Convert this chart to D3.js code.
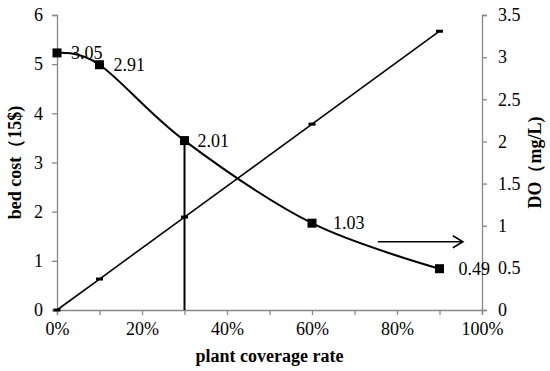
<!DOCTYPE html>
<html>
<head>
<meta charset="utf-8">
<script src="https://cdn.jsdelivr.net/npm/d3@7/dist/d3.min.js"></script>
<style>
  body { margin: 0; background: #fff; }
  svg text { font-family: "Liberation Serif", "Times New Roman", Times, "DejaVu Serif", serif; }
</style>
</head>
<body>
<svg id="chart" width="550" height="371"></svg>
<script>
// coverage rates (fraction) for both series
var coverage = [0, 0.1, 0.3, 0.6, 0.9];
// DO values (right axis), labelled points
var doValues = [3.05, 2.91, 2.01, 1.03, 0.49];
// bed cost values (left axis)
var bedCost = [0, 0.63, 1.89, 3.78, 5.67];
// tick values
var xTicks = [0, 0.2, 0.4, 0.6, 0.8, 1.0];
var xMinorTicks = [0, 0.1, 0.2, 0.3, 0.4, 0.5, 0.6, 0.7, 0.8, 0.9, 1.0];
var leftTicks = [0, 1, 2, 3, 4, 5, 6];
var rightTicks = [0, 0.5, 1, 1.5, 2, 2.5, 3, 3.5];
// arrow annotation (x range at DO level)
var arrowX = [0.755, 0.955];
var arrowDO = 0.81;

var fontStack = '"Liberation Serif", "Times New Roman", Times, "DejaVu Serif", serif';

var svg = d3.select('#chart'),
    margin = { left: 57, right: 68, top: 15, bottom: 61 },
    width = 550 - margin.left - margin.right,
    height = 371 - margin.top - margin.bottom;

var x = d3.scaleLinear().domain([0, 1]).range([margin.left, margin.left + width]);
var yL = d3.scaleLinear().domain([0, 6]).range([margin.top + height, margin.top]);
var yR = d3.scaleLinear().domain([0, 3.5]).range([margin.top + height, margin.top]);

var axisColor = '#888';
var plain = function(d) { return String(d); };

// bottom axis minor ticks
var xAxisMinor = d3.axisBottom(x).tickValues(xMinorTicks).tickSize(5).tickFormat('');
svg.append('g').attr('transform', 'translate(0,' + yL(0) + ')').call(xAxisMinor);
// bottom axis labels
var xAxis = d3.axisBottom(x).tickValues(xTicks).tickSize(0).tickPadding(12)
    .tickFormat(function(d) { return Math.round(d * 100) + '%'; });
svg.append('g').attr('class', 'xlab').attr('transform', 'translate(0,' + yL(0) + ')').call(xAxis);

var leftAxis = d3.axisLeft(yL).tickValues(leftTicks).tickSize(5).tickPadding(9).tickFormat(plain);
svg.append('g').attr('transform', 'translate(' + x(0) + ',0)').call(leftAxis);

var rightAxis = d3.axisRight(yR).tickValues(rightTicks).tickSize(5).tickPadding(11).tickFormat(plain);
svg.append('g').attr('transform', 'translate(' + x(1) + ',0)').call(rightAxis);

svg.selectAll('g').attr('font-family', fontStack);
svg.selectAll('.domain').attr('stroke', axisColor).attr('stroke-width', 1.3);
svg.selectAll('.tick line').attr('stroke', axisColor).attr('stroke-width', 1.3);
svg.selectAll('.tick text').attr('fill', '#000').style('font-size', '18px');
svg.select('.xlab .domain').remove();

// straight line: bed cost
var costLine = d3.line()
    .x(function(d, i) { return x(coverage[i]); })
    .y(function(d) { return yL(d); });
svg.append('path').datum(bedCost)
    .attr('d', costLine)
    .attr('fill', 'none').attr('stroke', '#000').attr('stroke-width', 1.6);
svg.selectAll('.costmark').data(bedCost).enter().append('rect')
    .attr('x', function(d, i) { return x(coverage[i]) - 3.5; })
    .attr('y', function(d) { return yL(d) - 1.5; })
    .attr('width', 7).attr('height', 3).attr('fill', '#000');

// smooth line: DO
var doLine = d3.line()
    .curve(d3.curveCatmullRom.alpha(0))
    .x(function(d, i) { return x(coverage[i]); })
    .y(function(d) { return yR(d); });
svg.append('path').datum(doValues)
    .attr('d', doLine)
    .attr('fill', 'none').attr('stroke', '#000').attr('stroke-width', 2);
svg.selectAll('.domark').data(doValues).enter().append('rect')
    .attr('x', function(d, i) { return x(coverage[i]) - 4.5; })
    .attr('y', function(d) { return yR(d) - 4.5; })
    .attr('width', 9).attr('height', 9).attr('fill', '#000');
var labelDx = [14, 14, 13, 21, 19];
svg.selectAll('.dolab').data(doValues).enter().append('text')
    .attr('x', function(d, i) { return x(coverage[i]) + labelDx[i]; })
    .attr('y', function(d) { return yR(d) + 6; })
    .style('font-size', '18px')
    .text(function(d) { return d.toFixed(2); });

// vertical drop line at 30%
svg.append('line')
    .attr('x1', x(coverage[2])).attr('x2', x(coverage[2]))
    .attr('y1', yR(doValues[2])).attr('y2', yR(0))
    .attr('stroke', '#000').attr('stroke-width', 2);

// arrow pointing to the right axis
var ax1 = x(arrowX[0]), ax2 = x(arrowX[1]), ay = yR(arrowDO);
svg.append('line').attr('x1', ax1).attr('x2', ax2).attr('y1', ay).attr('y2', ay)
    .attr('stroke', '#000').attr('stroke-width', 1.6);
svg.append('path')
    .attr('d', 'M' + (ax2 - 10) + ',' + (ay - 6) + 'L' + ax2 + ',' + ay + 'L' + (ax2 - 10) + ',' + (ay + 6))
    .attr('fill', 'none').attr('stroke', '#000').attr('stroke-width', 1.6);

// axis titles
svg.append('text')
    .attr('x', x(0.5)).attr('y', 362)
    .attr('text-anchor', 'middle')
    .style('font-size', '18px').style('font-weight', 'bold')
    .text('plant coverage rate');
svg.append('text')
    .attr('transform', 'translate(21,' + (margin.top + height / 2) + ') rotate(-90)')
    .attr('text-anchor', 'middle')
    .style('font-size', '18px').style('font-weight', 'bold')
    .text('bed cost（15$)');
svg.append('text')
    .attr('transform', 'translate(541,' + (margin.top + height / 2) + ') rotate(-90)')
    .attr('text-anchor', 'middle')
    .style('font-size', '18px').style('font-weight', 'bold')
    .text('DO（mg/L)');
</script>
</body>
</html>
